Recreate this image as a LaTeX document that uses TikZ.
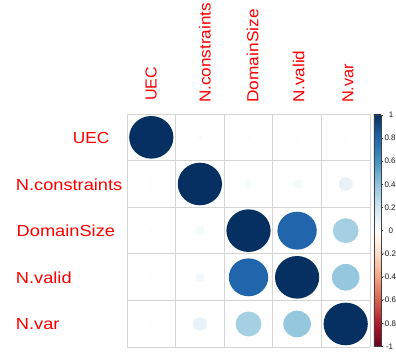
\documentclass[tikz,border=0pt]{standalone}
\usepackage{fontspec}
\usepackage{graphicx}
\setmainfont{Liberation Sans}
\definecolor{cp10}{HTML}{053061}
\definecolor{cp08}{HTML}{2166AC}
\definecolor{cp06}{HTML}{4393C3}
\definecolor{cp04}{HTML}{92C5DE}
\definecolor{cp02}{HTML}{D1E5F0}
\definecolor{cz}{HTML}{FFFFFF}
\definecolor{cm02}{HTML}{FDDBC7}
\definecolor{cm04}{HTML}{F4A582}
\definecolor{cm06}{HTML}{D6604D}
\definecolor{cm08}{HTML}{B2182B}
\definecolor{cm10}{HTML}{67001F}
\definecolor{cr039}{RGB}{149,199,223}
\definecolor{cr034}{RGB}{165,207,227}
\definecolor{cr010}{RGB}{232,242,248}
\definecolor{cr004}{RGB}{244,249,251}
\definecolor{crneg}{RGB}{254,250,244}
\definecolor{crtiny}{RGB}{250,251,252}
\definecolor{gridgray}{RGB}{212,212,212}
\definecolor{labred}{RGB}{255,0,0}
\pgfdeclareverticalshading{rdbu}{100bp}{color(0bp)=(cm10); color(25bp)=(cm10); color(30bp)=(cm08); color(35bp)=(cm06); color(40bp)=(cm04); color(45bp)=(cm02); color(50bp)=(cz); color(55bp)=(cp02); color(60bp)=(cp04); color(65bp)=(cp06); color(70bp)=(cp08); color(75bp)=(cp10); color(100bp)=(cp10)}
\tikzset{
  rowlab/.style={anchor=base west, inner sep=0pt, text=labred, font=\fontsize{16}{16}\selectfont},
  collab/.style={anchor=base west, inner sep=0pt, rotate=90, text=labred, font=\fontsize{16}{16}\selectfont},
  leglab/.style={anchor=west, inner sep=0pt, text=black!90, font=\fontsize{8}{8}\selectfont},
  gridline/.style={draw=gridgray, line width=1pt}
}
\newcommand{\cellcirc}[4]{% row, col, colour, sqrt|r|
  \fill[#3] ({127+48.6*(#2-0.5)},{114+46.66*(#1-0.5)}) ellipse [x radius={22.1*#4}, y radius={21.3*#4}];
}
\begin{document}
\begin{tikzpicture}[x=1pt,y=-1pt]
\useasboundingbox (0,0) rectangle (396,353);
\fill[white] (0,0) rectangle (396,353);
% grid
\foreach \i in {0,...,5} {
  \draw[gridline] ({127+48.6*\i},114) -- ({127+48.6*\i},347.3);
  \draw[gridline] (127,{114+46.66*\i}) -- (370,{114+46.66*\i});
}
% circles
\cellcirc{1}{1}{cp10}{1}
\cellcirc{2}{2}{cp10}{1}
\cellcirc{3}{3}{cp10}{1}
\cellcirc{4}{4}{cp10}{1}
\cellcirc{5}{5}{cp10}{1}
\cellcirc{3}{4}{cp08}{0.89}
\cellcirc{4}{3}{cp08}{0.89}
\cellcirc{3}{5}{cr034}{0.583}
\cellcirc{5}{3}{cr034}{0.583}
\cellcirc{4}{5}{cr039}{0.625}
\cellcirc{5}{4}{cr039}{0.625}
\cellcirc{2}{5}{cr010}{0.316}
\cellcirc{5}{2}{cr010}{0.316}
\cellcirc{2}{3}{cr004}{0.2}
\cellcirc{3}{2}{cr004}{0.215}
\cellcirc{2}{4}{cr004}{0.2}
\cellcirc{4}{2}{cr004}{0.215}
\cellcirc{1}{2}{crneg}{0.1}
\cellcirc{2}{1}{crneg}{0.1}
\cellcirc{1}{3}{crtiny}{0.07}
\cellcirc{1}{4}{crtiny}{0.07}
\cellcirc{1}{5}{crtiny}{0.07}
\cellcirc{3}{1}{crtiny}{0.07}
\cellcirc{4}{1}{crtiny}{0.07}
\cellcirc{5}{1}{crtiny}{0.07}
% row labels
\node[rowlab, anchor=base east] (rUEC) at (109.5,143.3) {\scalebox{1.08}[1]{UEC}};
\node[rowlab] (rNcon) at (15.7,190.3) {\scalebox{1.14}[1]{N.constraints}};
\node[rowlab] (rDom) at (16.5,236.8) {\scalebox{1.14}[1]{DomainSize}};
\node[rowlab] (rNval) at (15.7,283.3) {\scalebox{1.14}[1]{N.valid}};
\node[rowlab] (rNvar) at (15.7,329.8) {\scalebox{1.14}[1]{N.var}};
% column labels
\node[collab] (cUEC) at (156.6,101) {\scalebox{1.0}[1]{UEC}};
\node[collab] (cNcon) at (210.6,103) {\scalebox{1.07}[1]{N.constraints}};
\node[collab] (cDom) at (258.3,102.7) {\scalebox{1.08}[1]{DomainSize}};
\node[collab] (cNval) at (304.3,103) {\scalebox{1.07}[1]{N.valid}};
\node[collab] (cNvar) at (353.3,103) {\scalebox{1.02}[1]{N.var}};
% colour legend
\shade[shading=rdbu] (373.8,114.8) rectangle (380.8,346.6);
\draw[black!75, line width=0.4pt] (373.8,114.8) rectangle (380.8,346.6);
\foreach \k in {0,...,10} {
  \draw[black!75, line width=0.5pt] (380.8,{114.8+23.18*\k}) -- (383.2,{114.8+23.18*\k});
}
\node[leglab] (l10) at (388.7,114.8) {1};
\node[leglab] (l08) at (384.3,137.98) {0.8};
\node[leglab] (l06) at (384.3,161.16) {0.6};
\node[leglab] (l04) at (384.3,184.34) {0.4};
\node[leglab] (l02) at (384.3,207.52) {0.2};
\node[leglab] (l00) at (388.5,230.7) {0};
\node[leglab] (lm02) at (382.0,253.88) {-0.2};
\node[leglab] (lm04) at (382.0,277.06) {-0.4};
\node[leglab] (lm06) at (382.0,300.24) {-0.6};
\node[leglab] (lm08) at (382.0,323.42) {-0.8};
\node[leglab] (lm10) at (385.8,346.6) {-1};
\end{tikzpicture}
\end{document}
